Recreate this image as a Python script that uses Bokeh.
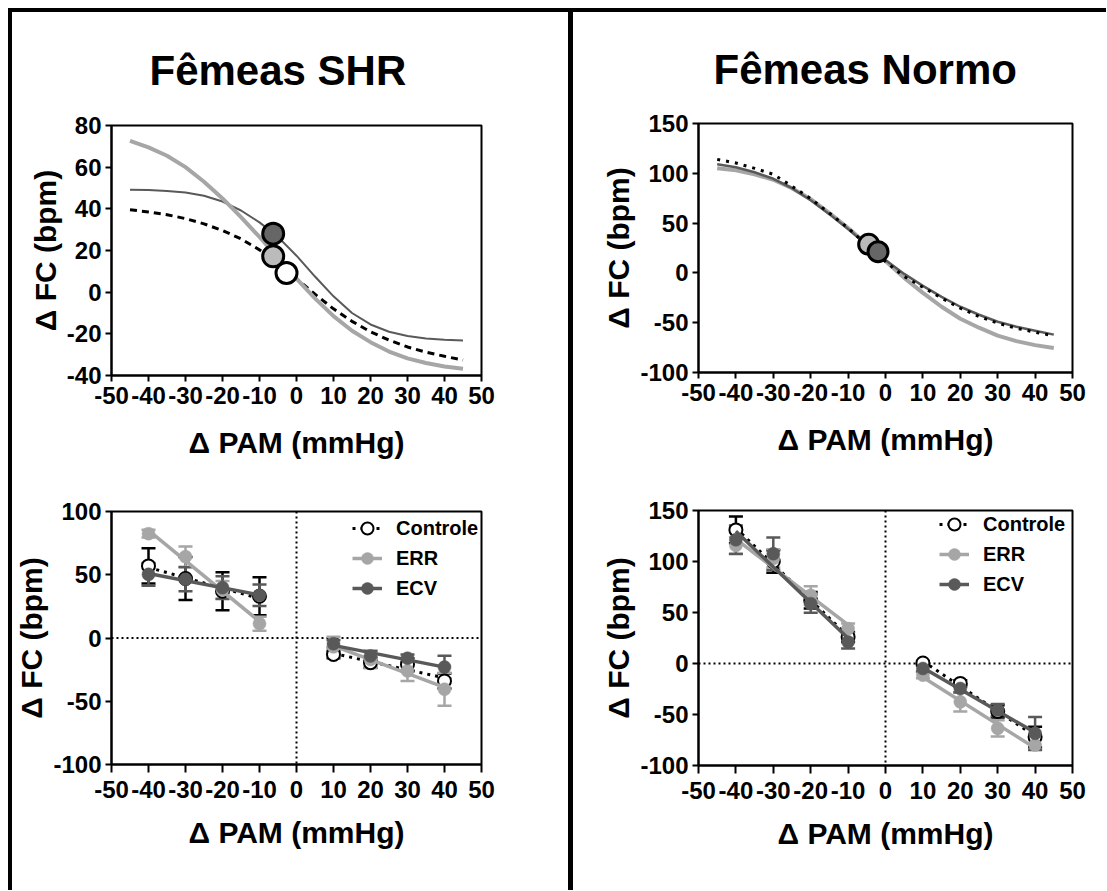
from bokeh.plotting import figure
from bokeh.layouts import column, row
from bokeh.models import (Div, Range1d, Span, FixedTicker, Legend, LegendItem)
from bokeh.embed import file_html
from bokeh.resources import INLINE

# ---------------- data ----------------
titles = ["Fêmeas SHR", "Fêmeas Normo"]
x_label = "Δ PAM (mmHg)"
y_label = "Δ FC (bpm)"
series_names = ["Controle", "ERR", "ECV"]

x_ticks = [-50, -40, -30, -20, -10, 0, 10, 20, 30, 40, 50]
x_tick_labels = ["-50", "-40", "-30", "-20", "-10", "0", "10", "20", "30", "40", "50"]
y_ticks_shr_top = [-40, -20, 0, 20, 40, 60, 80]
y_ticks_shr_bot = [-100, -50, 0, 50, 100]
y_ticks_normo = [-100, -50, 0, 50, 100, 150]

# sigmoid curves (x = ΔPAM)
curve_x = [-45, -40, -35, -30, -25, -20, -15, -10, -5, 0, 5, 10, 15, 20, 25, 30, 35, 40, 45]
shr_ctrl_curve = [39.6, 38.5, 37.2, 35.3, 32.8, 29.6, 25.6, 20.3, 13.8, 6.5, -1, -8, -14, -19, -23, -26.3, -28.8, -30.8, -32.6]
shr_err_curve = [72.6, 69.5, 65.5, 60, 53, 45, 36, 26.5, 16.5, 6.5, -3, -11.5, -18.5, -24, -28.5, -31.8, -34, -35.7, -36.8]
shr_ecv_curve = [49.2, 49, 48.6, 47.8, 46.3, 43.5, 39.2, 33.5, 26.5, 17.5, 7.5, -2, -10, -15.5, -19, -21, -22.2, -22.8, -23.2]
nor_ctrl_curve = [114, 110.3, 105, 99, 87, 74.5, 60, 45, 28, 11.4, -3.7, -14.4, -25.4, -35.4, -43.8, -50.5, -55.5, -59.5, -63.2]
nor_err_curve = [105, 103, 99, 93.5, 85, 74, 60, 45, 29, 12, -5, -20, -34, -46, -55, -63, -68.5, -72.5, -75.5]
nor_ecv_curve = [109, 106, 101, 94.5, 85, 73, 59, 44, 28, 13, -1, -13, -24, -34, -42, -49, -54, -58, -62]

# midpoint (BP50) markers
shr_mid_x = [-2.7, -6.3, -6.3]      # Controle, ERR, ECV
shr_mid_y = [9.2, 17.2, 28.1]
nor_mid_x = [-4.5, -2.0]            # ERR, ECV
nor_mid_y = [28.7, 21.3]

# bottom panels: mean ± SEM
pam = [-40, -30, -20, -10, 10, 20, 30, 40]
shr_ctrl = [57, 47, 37, 33, -13, -19.5, -21, -34]
shr_ctrl_sem = [14, 17, 15, 15, 3, 4, 5, 6]
shr_err = [82.5, 64.3, 38, 11.3, -7, -17, -26, -40.5]
shr_err_sem = [3, 8, 7, 5.5, 8, 7, 8, 13]
shr_ecv = [50.3, 46.4, 39.8, 33.7, -4.5, -14.2, -16, -23]
shr_ecv_sem = [9, 9.5, 9, 8.5, 3, 4, 3, 9]

nor_ctrl = [131, 100, 62, 26, 0.5, -19.5, -47, -72]
nor_ctrl_sem = [13, 11, 8, 5, 2, 3, 6, 10]
nor_err = [115.7, 103, 66.8, 34.2, -11.4, -37.6, -63.6, -80]
nor_err_sem = [8, 9, 9, 5, 3, 9.5, 8, 5]
nor_ecv = [121.3, 107.6, 58.7, 21.2, -4.9, -24.5, -45.7, -68.5]
nor_ecv_sem = [14, 16, 9, 6.5, 3, 4, 6, 16]

# ---------------- style ----------------
FONT = "Liberation Sans"
LIGHT = "#A6A6A6"
DARK = "#595959"
LIGHT_FILL = "#BBBBBB"
DARK_FILL = "#666666"


def make_fig(w, h, xr, yr, borders, yticks, title=None, title_offset=0,
             title_standoff=60, bottom=False):
    bl, br, bt, bb = borders
    p = figure(width=w, height=h, x_range=Range1d(*xr), y_range=Range1d(*yr),
               output_backend="svg", toolbar_location=None,
               min_border_left=bl, min_border_right=br,
               min_border_top=bt, min_border_bottom=bb)
    p.grid.visible = False
    p.outline_line_color = "black"
    p.outline_line_width = 2
    p.outline_line_alpha = 1
    p.background_fill_color = "white"
    p.border_fill_color = "white"
    p.xaxis.ticker = FixedTicker(ticks=x_ticks)
    p.xaxis.major_label_overrides = {t: l for t, l in zip(x_ticks, x_tick_labels)}
    p.yaxis.ticker = FixedTicker(ticks=yticks)
    p.yaxis.major_label_overrides = {t: str(t) for t in yticks}
    for ax in (p.xaxis[0], p.yaxis[0]):
        ax.axis_line_width = 2
        ax.axis_line_color = "black"
        ax.major_tick_line_width = 2
        ax.major_tick_line_color = "black"
        ax.major_tick_in = 0
        ax.major_tick_out = 6
        ax.minor_tick_line_color = None
        ax.major_label_text_font = FONT
        ax.major_label_text_font_style = "bold"
        ax.major_label_text_font_size = "24px"
        ax.major_label_text_color = "black"
        ax.axis_label_text_font = FONT
        ax.axis_label_text_font_style = "bold"
        ax.axis_label_text_font_size = "30px"
        ax.axis_label_text_color = "black"
    p.xaxis.axis_label = x_label
    p.yaxis.axis_label = y_label
    if bottom:
        p.xaxis.major_tick_out = 8
        p.xaxis.major_label_standoff = 8
        p.xaxis.axis_label_standoff = 15
    else:
        p.xaxis.major_label_standoff = 5
        p.xaxis.axis_label_standoff = 19
    p.yaxis.major_label_standoff = 4
    p.yaxis.axis_label_standoff = 2
    if title:
        p.title.text = title
        p.title.text_font = FONT
        p.title.text_font_size = "42px"
        p.title.text_font_style = "bold"
        p.title.text_color = "black"
        p.title.align = "left"
        p.title.offset = title_offset
        p.title.standoff = title_standoff
    return p


# ---------------- top-left: SHR curves ----------------
f1 = make_fig(556, 458, (-50, 50), (-40, 80), (94, 87, 113, 95), y_ticks_shr_top,
              titles[0], 38, 63)
f1.line(curve_x, shr_ecv_curve, line_color=DARK, line_width=2)
f1.line(curve_x, shr_ctrl_curve, line_color="black", line_width=3, line_dash="7 5")
f1.line(curve_x, shr_err_curve, line_color=LIGHT, line_width=4)
f1.scatter(shr_mid_x[2:3], shr_mid_y[2:3], size=21, fill_color=DARK_FILL, line_color="black", line_width=3)
f1.scatter(shr_mid_x[1:2], shr_mid_y[1:2], size=21, fill_color=LIGHT_FILL, line_color="black", line_width=3)
f1.scatter(shr_mid_x[0:1], shr_mid_y[0:1], size=21, fill_color="white", line_color="black", line_width=3)

# ---------------- top-right: Normo curves ----------------
f2 = make_fig(533, 458, (-50, 50), (-100, 150), (125, 34, 111, 98), y_ticks_normo,
              titles[1], 15, 61)
f2.line(curve_x, nor_err_curve, line_color=LIGHT, line_width=4)
f2.line(curve_x, nor_ecv_curve, line_color=DARK, line_width=2.5)
f2.line(curve_x, nor_ctrl_curve, line_color="black", line_width=3, line_dash="3 6")
f2.scatter(nor_mid_x[0:1], nor_mid_y[0:1], size=20, fill_color=LIGHT_FILL, line_color="black", line_width=3)
f2.scatter(nor_mid_x[1:2], nor_mid_y[1:2], size=20, fill_color=DARK_FILL, line_color="black", line_width=3)


# ---------------- bottom panels ----------------
def linfit(xs, ys):
    n = len(xs)
    mx = sum(xs) / n
    my = sum(ys) / n
    b = sum((a - mx) * (c - my) for a, c in zip(xs, ys)) / sum((a - mx) ** 2 for a in xs)
    return [xs[0], xs[-1]], [my + b * (xs[0] - mx), my + b * (xs[-1] - mx)]


def bottom_panel(p, groups, legend_loc):
    # groups: list of (name, means, sems, color, fill, dash)
    for name, m, s, col, fill, dash in groups:
        lo = [a - b for a, b in zip(m, s)]
        hi = [a + b for a, b in zip(m, s)]
        p.segment(pam, lo, pam, hi, line_color=col, line_width=2.5)
        p.scatter(pam, hi, marker="dash", size=14, line_color=col, line_width=2.5)
        p.scatter(pam, lo, marker="dash", size=14, line_color=col, line_width=2.5)
    items = []
    for name, m, s, col, fill, dash in groups:
        rends = []
        for sl in (slice(0, 4), slice(4, 8)):
            lx, ly = linfit(pam[sl], m[sl])
            if dash:
                r = p.line(lx, ly, line_color=col, line_width=3, line_dash=dash)
            else:
                r = p.line(lx, ly, line_color=col, line_width=3.5)
            rends.append(r)
        pts = p.scatter(pam, m, size=13, fill_color=fill, line_color=col,
                        line_width=2 if fill == "white" else 0.5)
        items.append(LegendItem(label=name, renderers=[rends[0], pts]))
    legend = Legend(items=items, location=legend_loc, border_line_color=None,
                    background_fill_alpha=0, padding=0, spacing=0, margin=0,
                    glyph_width=30, glyph_height=30, label_height=30,
                    label_standoff=14, label_text_font=FONT,
                    label_text_font_style="bold", label_text_font_size="20px",
                    label_text_color="black")
    p.add_layout(legend)
    p.add_layout(Span(location=0, dimension="width", line_dash="2 3", line_width=2,
                      line_color="black", level="underlay"))
    p.add_layout(Span(location=0, dimension="height", line_dash="2 3", line_width=2,
                      line_color="black", level="underlay"))


f3 = make_fig(556, 420, (-50, 50), (-100, 100), (94, 78, 41, 126), y_ticks_shr_bot,
              bottom=True)
bottom_panel(f3, [
    (series_names[0], shr_ctrl, shr_ctrl_sem, "black", "white", "3 5"),
    (series_names[1], shr_err, shr_err_sem, LIGHT, LIGHT, None),
    (series_names[2], shr_ecv, shr_ecv_sem, DARK, DARK, None),
], (241, 161))

f4 = make_fig(533, 420, (-50, 50), (-100, 150), (125, 26, 40, 125), y_ticks_normo,
              bottom=True)
bottom_panel(f4, [
    (series_names[0], nor_ctrl, nor_ctrl_sem, "black", "white", "3 5"),
    (series_names[1], nor_err, nor_err_sem, LIGHT, LIGHT, None),
    (series_names[2], nor_ecv, nor_ecv_sem, DARK, DARK, None),
], (241, 166))

# ---------------- frame lines & layout ----------------
top_line = Div(text="", width=1098, height=4, margin=0,
               styles={"background-color": "black"})
left_line = Div(text="", width=4, height=878, margin=0,
                styles={"background-color": "black"})
mid_line = Div(text="", width=5, height=878, margin=0,
               styles={"background-color": "black"})

layout = column(top_line,
                row(left_line, column(f1, f3, spacing=0), mid_line,
                    column(f2, f4, spacing=0), spacing=0),
                spacing=0, margin=(8, 0, 0, 8))

open("out.html", "w").write(file_html(layout, INLINE))
